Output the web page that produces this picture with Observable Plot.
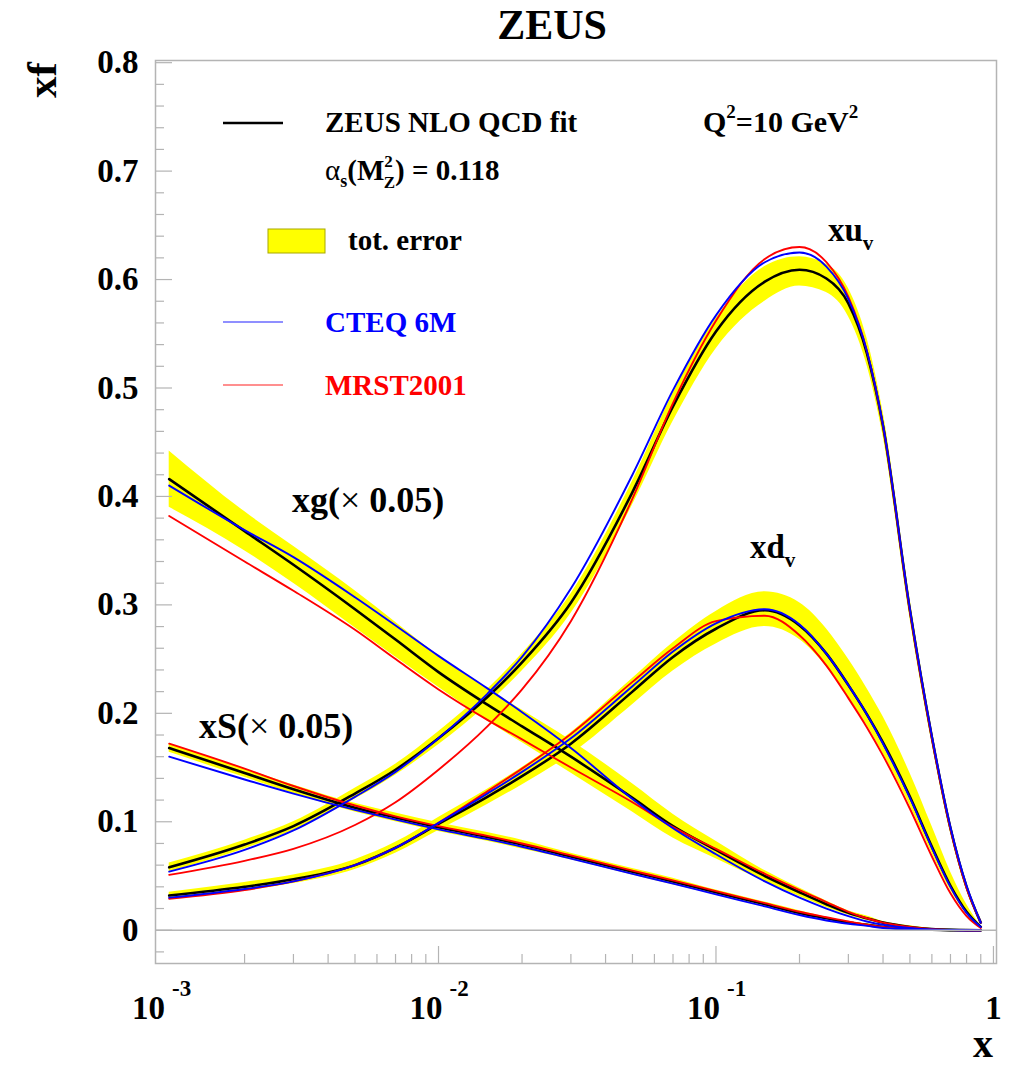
<!DOCTYPE html>
<html><head><meta charset="utf-8">
<script src="https://cdn.jsdelivr.net/npm/d3@7"></script>
<script src="https://cdn.jsdelivr.net/npm/@observablehq/plot@0.6"></script>
<style>
body{margin:0;background:#fff}
#chart{width:1030px;height:1065px}
</style>
</head><body><div id="chart"></div>
<script>
// x grid (momentum fraction)
const xGrid = [0.00107, 0.002, 0.003, 0.005, 0.007, 0.01, 0.015, 0.02, 0.03, 0.05, 0.07, 0.1, 0.15, 0.2, 0.25, 0.3, 0.35, 0.4, 0.5, 0.6, 0.7, 0.8, 0.9];

// xu_v
const xuvZeus = [0.058, 0.079, 0.096, 0.126, 0.148, 0.177, 0.215, 0.247, 0.302, 0.404, 0.483, 0.552, 0.598, 0.609, 0.601, 0.578, 0.532, 0.465, 0.295, 0.178, 0.094, 0.040, 0.007];
const xuvLow  = [0.054, 0.075, 0.092, 0.121, 0.143, 0.171, 0.208, 0.239, 0.292, 0.392, 0.469, 0.536, 0.580, 0.594, 0.588, 0.566, 0.521, 0.456, 0.288, 0.173, 0.090, 0.037, 0.006];
const xuvHigh = [0.062, 0.083, 0.100, 0.131, 0.153, 0.183, 0.222, 0.255, 0.310, 0.414, 0.495, 0.564, 0.612, 0.621, 0.614, 0.592, 0.546, 0.478, 0.306, 0.186, 0.100, 0.044, 0.008];
const xuvCteq = [0.054, 0.074, 0.092, 0.123, 0.146, 0.177, 0.218, 0.252, 0.315, 0.420, 0.498, 0.567, 0.616, 0.625, 0.612, 0.582, 0.534, 0.466, 0.296, 0.179, 0.095, 0.041, 0.007];
const xuvMrst = [0.051, 0.064, 0.075, 0.097, 0.118, 0.148, 0.188, 0.222, 0.285, 0.398, 0.486, 0.562, 0.619, 0.630, 0.616, 0.584, 0.534, 0.465, 0.294, 0.177, 0.093, 0.039, 0.007];

// xd_v
const xdvZeus = [0.032, 0.040, 0.047, 0.060, 0.076, 0.098, 0.123, 0.142, 0.172, 0.220, 0.252, 0.278, 0.295, 0.281, 0.255, 0.226, 0.199, 0.173, 0.123, 0.077, 0.041, 0.017, 0.003];
const xdvLow  = [0.029, 0.036, 0.043, 0.056, 0.071, 0.092, 0.116, 0.134, 0.162, 0.208, 0.239, 0.264, 0.280, 0.268, 0.243, 0.215, 0.189, 0.163, 0.115, 0.071, 0.037, 0.015, 0.002];
const xdvHigh = [0.035, 0.044, 0.051, 0.065, 0.081, 0.104, 0.130, 0.150, 0.182, 0.232, 0.265, 0.294, 0.312, 0.302, 0.278, 0.250, 0.223, 0.197, 0.145, 0.096, 0.054, 0.024, 0.004];
const xdvCteq = [0.030, 0.038, 0.045, 0.060, 0.076, 0.099, 0.126, 0.146, 0.177, 0.225, 0.257, 0.283, 0.296, 0.282, 0.255, 0.226, 0.199, 0.172, 0.122, 0.076, 0.040, 0.016, 0.003];
const xdvMrst = [0.029, 0.037, 0.045, 0.060, 0.076, 0.099, 0.128, 0.149, 0.181, 0.229, 0.260, 0.285, 0.290, 0.272, 0.244, 0.214, 0.187, 0.161, 0.112, 0.068, 0.034, 0.013, 0.002];

// xg (x 0.05)
const xgZeus = [0.416, 0.368, 0.337, 0.296, 0.268, 0.238, 0.208, 0.188, 0.160, 0.122, 0.096, 0.074, 0.050, 0.035, 0.024, 0.016, 0.011, 0.007, 0.003, 0.001, 0.0003, 0.0001, 0];
const xgLow  = [0.390, 0.350, 0.320, 0.279, 0.252, 0.224, 0.193, 0.173, 0.145, 0.109, 0.085, 0.066, 0.045, 0.031, 0.021, 0.014, 0.009, 0.006, 0.002, 0.001, 0, 0, 0];
const xgHigh = [0.442, 0.386, 0.354, 0.313, 0.284, 0.253, 0.223, 0.203, 0.175, 0.135, 0.107, 0.082, 0.055, 0.039, 0.027, 0.018, 0.013, 0.008, 0.004, 0.0015, 0.0005, 0.0002, 0];
const xgCteq = [0.410, 0.369, 0.344, 0.307, 0.281, 0.253, 0.223, 0.201, 0.168, 0.121, 0.094, 0.070, 0.045, 0.030, 0.020, 0.013, 0.008, 0.005, 0.002, 0.0006, 0.0002, 0, 0];
const xgMrst = [0.382, 0.340, 0.313, 0.277, 0.250, 0.222, 0.194, 0.176, 0.150, 0.118, 0.095, 0.075, 0.052, 0.037, 0.026, 0.017, 0.011, 0.007, 0.003, 0.001, 0.0003, 0, 0];

// xS (x 0.05)
const xsZeus = [0.168, 0.145, 0.130, 0.113, 0.104, 0.095, 0.086, 0.079, 0.068, 0.054, 0.045, 0.035, 0.024, 0.016, 0.011, 0.007, 0.005, 0.003, 0.001, 0.0004, 0.0001, 0, 0];
const xsLow  = [0.164, 0.141, 0.126, 0.109, 0.100, 0.091, 0.082, 0.075, 0.065, 0.051, 0.042, 0.033, 0.022, 0.014, 0.010, 0.006, 0.004, 0.002, 0.0007, 0.0002, 0, 0, 0];
const xsHigh = [0.172, 0.149, 0.134, 0.117, 0.108, 0.099, 0.090, 0.083, 0.071, 0.057, 0.048, 0.037, 0.026, 0.018, 0.012, 0.008, 0.006, 0.004, 0.0013, 0.0006, 0.0002, 0, 0];
const xsCteq = [0.160, 0.139, 0.126, 0.111, 0.102, 0.093, 0.084, 0.077, 0.066, 0.052, 0.043, 0.033, 0.022, 0.014, 0.009, 0.006, 0.004, 0.002, 0.001, 0.0003, 0.0001, 0, 0];
const xsMrst = [0.172, 0.149, 0.133, 0.115, 0.105, 0.096, 0.087, 0.080, 0.069, 0.055, 0.046, 0.036, 0.025, 0.017, 0.012, 0.008, 0.005, 0.003, 0.001, 0.0004, 0.0001, 0, 0];

// axis ticks
const yTicks = [0, 0.1, 0.2, 0.3, 0.4, 0.5, 0.6, 0.7, 0.8];
const yMinorTicks = d3.range(-1, 40).map(i => i * 0.02).filter(v => Math.abs(v * 10 - Math.round(v * 10)) > 1e-6);
const xMajorTicks = [0.01, 0.1, 1];
const xMinorTicks = [2,3,4,5,6,7,8,9].flatMap(m => [m * 1e-3, m * 1e-2, m * 1e-1]);
const xDecadeLabels = [1e-3, 1e-2, 1e-1];

const W = 1030, H = 1065;
const mL = 155, mR = 34, mT = 60, mB = 102;
const pw = W - mL - mR, ph = H - mT - mB;
const serif = "'Liberation Serif', 'Times New Roman', Times, serif";
const grey = "#b4b4b4";

const lineRows = ys => xGrid.map((x, i) => ({x, y: ys[i]}));
const bandRows = (lo, hi) => xGrid.map((x, i) => ({x, y1: lo[i], y2: hi[i]}));

const bands = [[xgLow, xgHigh], [xsLow, xsHigh], [xuvLow, xuvHigh], [xdvLow, xdvHigh]];
const zeus = [xgZeus, xsZeus, xuvZeus, xdvZeus];
const mrst = [xgMrst, xsMrst, xuvMrst, xdvMrst];
const cteq = [xgCteq, xsCteq, xuvCteq, xdvCteq];

const plot = Plot.plot({
  width: W, height: H,
  marginLeft: mL, marginRight: mR, marginTop: mT, marginBottom: mB,
  x: {type: "log", domain: [10 ** -3.02, 10 ** 0.011]},
  y: {domain: [-0.0307, 0.802]},
  style: {fontFamily: serif, background: "white", overflow: "visible"},
  marks: [
    ...bands.map(([lo, hi]) => Plot.areaY(bandRows(lo, hi), {x: "x", y1: "y1", y2: "y2", fill: "#ffff00", curve: "monotone-x"})),
    ...zeus.map(s => Plot.line(lineRows(s), {x: "x", y: "y", stroke: "#000", strokeWidth: 2.6, curve: "monotone-x"})),
    ...mrst.map(s => Plot.line(lineRows(s), {x: "x", y: "y", stroke: "#ff0000", strokeWidth: 1.9, curve: "monotone-x"})),
    ...cteq.map(s => Plot.line(lineRows(s), {x: "x", y: "y", stroke: "#0000ff", strokeWidth: 1.9, curve: "monotone-x"})),
    Plot.ruleY([0], {stroke: grey, strokeWidth: 1.5}),
    Plot.ruleY(yTicks, {stroke: grey, strokeWidth: 1.2, insetRight: pw - 17}),
    Plot.ruleY(yMinorTicks, {stroke: grey, strokeWidth: 1.2, insetRight: pw - 9}),
    Plot.ruleX(xMajorTicks, {stroke: grey, strokeWidth: 1.2, insetTop: ph - 17}),
    Plot.ruleX(xMinorTicks, {stroke: grey, strokeWidth: 1.2, insetTop: ph - 9}),
    Plot.frame({stroke: grey, strokeWidth: 1.5}),
    Plot.axisY({ticks: yTicks, tickSize: 0, tickPadding: 17, label: null,
      tickFormat: d => d === 0 ? "0" : d.toFixed(1), fontSize: 33, fontWeight: "bold", fontFamily: serif}),
    Plot.axisX({ticks: xDecadeLabels, tickSize: 0, tickPadding: 32, label: null, textAnchor: "end", dx: 4,
      tickFormat: () => "10", fontSize: 33, fontWeight: "bold", fontFamily: serif}),
    Plot.axisX({ticks: xDecadeLabels, tickSize: 0, tickPadding: 16, label: null, textAnchor: "start", dx: 11,
      tickFormat: d => "-" + Math.round(-Math.log10(d)), fontSize: 23, fontWeight: "bold", fontFamily: serif}),
    Plot.axisX({ticks: [1], tickSize: 0, tickPadding: 32, label: null,
      tickFormat: () => "1", fontSize: 33, fontWeight: "bold", fontFamily: serif})
  ]
});

document.getElementById("chart").appendChild(plot);

// annotations
const svg = d3.select(plot);
const g = svg.append("g").attr("font-family", serif).attr("font-weight", "bold")
  .attr("fill", "#000").attr("text-anchor", "start");

function txt(x, y, size, parts, opts = {}) {
  const t = g.append("text").attr("x", x).attr("y", y).attr("font-size", size)
    .attr("text-anchor", opts.anchor || "start");
  if (opts.fill) t.attr("fill", opts.fill);
  if (opts.transform) t.attr("transform", opts.transform);
  for (const p of parts) {
    if (typeof p === "string") { t.append("tspan").text(p); continue; }
    const s = t.append("tspan").text(p.t);
    if (p.size) s.attr("font-size", p.size);
    if (p.dx) s.attr("dx", p.dx);
    if (p.dy) s.attr("dy", p.dy);
    if (p.weight) s.attr("font-weight", p.weight);
  }
  return t;
}

// title and axis titles
txt(552, 39, 42, ["ZEUS"], {anchor: "middle"});
txt(0, 0, 43, ["xf"], {anchor: "middle", transform: "translate(56,80) rotate(-90)"});
txt(983, 1057, 40, ["x"], {anchor: "middle"});

// legend
g.append("line").attr("x1", 223).attr("x2", 283).attr("y1", 123).attr("y2", 123).attr("stroke", "#000").attr("stroke-width", 2.6);
txt(325, 132, 29, ["ZEUS NLO QCD fit"]);
txt(325, 180, 29, [
  {t: "α", weight: "normal"},
  {t: "s", size: 18, dy: 7},
  {t: "(M", dy: -7},
  {t: "2", size: 17, dy: -13},
  {t: "Z", size: 17, dx: -9, dy: 21},
  {t: ") = 0.118", dy: -8}
]);
g.append("rect").attr("x", 268).attr("y", 229).attr("width", 57).attr("height", 24)
  .attr("fill", "#ffff00").attr("stroke", "#a8a800").attr("stroke-width", 1);
txt(348, 250, 29, ["tot. error"]);
g.append("line").attr("x1", 223).attr("x2", 283).attr("y1", 322).attr("y2", 322).attr("stroke", "#6a6aff").attr("stroke-width", 1.6);
txt(325, 332, 29, ["CTEQ 6M"], {fill: "#0000ff"});
g.append("line").attr("x1", 223).attr("x2", 283).attr("y1", 385).attr("y2", 385).attr("stroke", "#ff6a6a").attr("stroke-width", 1.6);
txt(325, 395, 29, ["MRST2001"], {fill: "#ff0000"});

txt(703, 132, 30, ["Q", {t: "2", size: 19, dy: -14}, {t: "=10 GeV", dy: 14}, {t: "2", size: 19, dy: -14}]);

// curve labels
txt(828, 241, 33, ["xu", {t: "v", size: 21, dy: 9}]);
txt(750, 558, 33, ["xd", {t: "v", size: 21, dy: 9}]);
txt(292, 512, 36, ["xg(", {t: "×", weight: "normal"}, " 0.05)"]);
txt(199, 738, 36, ["xS(", {t: "×", weight: "normal"}, " 0.05)"]);
</script>
</body></html>
